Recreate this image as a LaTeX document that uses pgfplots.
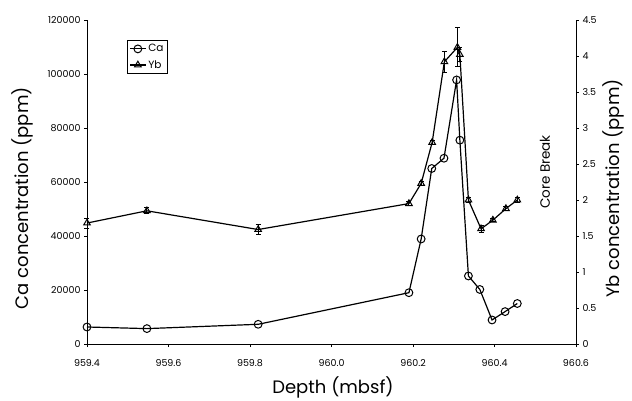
\documentclass[border=0pt]{standalone}
\usepackage{pgfplots}
\pgfplotsset{compat=1.18}
\usepackage{fontspec}
\setmainfont{Poppins}
\begin{document}
\begin{tikzpicture}
\pgfplotsset{
  base/.style={scale only axis, width=489pt, height=324pt,
    xmin=959.4, xmax=960.6,
    tick align=outside, major tick length=3pt,
    axis line style={-, line width=0.8pt},
    every tick/.style={black, line width=0.7pt},
    tick label style={font=\fontsize{9.5}{10}\selectfont},
    label style={font=\fontsize{18}{20}\selectfont},
    /pgf/number format/assume math mode=true,
    scaled ticks=false,
    clip=false}
}
\begin{axis}[base, name=ax1,
  ymin=0, ymax=120000,
  axis y line*=left, axis x line*=bottom,
  xtick={959.4,959.6,959.8,960.0,960.2,960.4,960.6},
  xticklabels={959.4,959.6,959.8,960.0,960.2,960.4,960.6},
  xticklabel style={yshift=-9pt},
  ytick={0,20000,40000,60000,80000,100000,120000},
  yticklabels={0,20000,40000,60000,80000,100000,120000},
  xlabel={Depth (mbsf)},
  ylabel={Ca concentration (ppm)},
  xlabel style={at={(axis description cs:0.503,-0.133)}, anchor=center},
  ylabel style={at={(axis description cs:-0.133,0.45)}, anchor=center},
  legend style={at={(0.082,0.938)}, anchor=north west, draw=black, line width=0.7pt,
    font=\fontsize{10.5}{11}\selectfont, inner sep=2pt, row sep=3pt,
    legend image code/.code={\draw[line width=1.2pt] (0cm,0cm) -- (0.55cm,0cm); \draw[mark repeat=2,mark phase=2] plot coordinates {(0cm,0cm) (0.275cm,0cm) (0.55cm,0cm)};}},
  legend cell align=left,
]
\addplot[black, line width=1.2pt, mark=o, mark size=3.9pt, mark options={fill=white, line width=1pt}] coordinates {
(959.40,6300) (959.547,5700) (959.82,7300) (960.19,19000) (960.22,38900)
(960.246,65000) (960.276,68800) (960.307,97800) (960.315,75500) (960.336,25200)
(960.364,20200) (960.394,8900) (960.426,12000) (960.456,15000)};
\addlegendentry{Ca}
\addlegendimage{black, line width=1.2pt, mark=triangle, mark size=3.8pt, mark options={fill=white, line width=1pt}}
\addlegendentry{Yb}
\node[rotate=90, font=\fontsize{13.5}{14}\selectfont] at (axis cs:960.524,63700) {Core Break};
\end{axis}
\begin{axis}[base,
  ymin=0, ymax=4.5,
  axis y line*=right, axis x line=none,
  ytick={0,0.5,1,1.5,2,2.5,3,3.5,4,4.5},
  yticklabels={0,0.5,1,1.5,2,2.5,3,3.5,4,4.5},
  ylabel={Yb concentration (ppm)},
  ylabel style={at={(axis description cs:1.0757,0.48)}, anchor=center},
]
\addplot[black, line width=1.2pt, mark=triangle, mark size=3.8pt, mark options={fill=white, line width=1pt},
  error bars/.cd, y dir=both, y explicit, error bar style={line width=0.9pt}, error mark options={rotate=90, mark size=2.5pt, line width=0.9pt}]
  table[x=x, y=y, y error=e] {
x y e
959.40 1.68 0.07
959.547 1.85 0.04
959.82 1.59 0.07
960.19 1.95 0.03
960.22 2.23 0.03
960.247 2.80 0.03
960.277 3.92 0.15
960.309 4.12 0.27
960.315 4.02 0.10
960.336 2.00 0.03
960.367 1.60 0.05
960.396 1.72 0.02
960.428 1.88 0.03
960.456 2.00 0.03
};
\end{axis}
\pgfresetboundingbox
\path ([xshift=-87pt,yshift=-56pt]ax1.south west) rectangle ([xshift=56pt,yshift=20pt]ax1.north east);
\end{tikzpicture}
\end{document}
